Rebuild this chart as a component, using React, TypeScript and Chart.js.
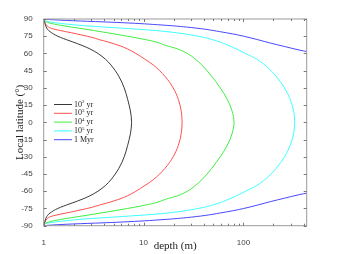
import React, { useEffect, useRef } from "react";
import { Chart, registerables } from "chart.js";

Chart.register(...registerables);

// ---- data ----
const seriesNames = ["10² yr", "10³ yr", "10⁴ yr", "10⁵ yr", "1 Myr"];
const legendBase = ["10", "10", "10", "10", "1 Myr"];
const legendSup = ["2", "3", "4", "5", ""];
const legendRest = [" yr", " yr", " yr", " yr", ""];

// 10^2 yr (black)
const latBlack = [90, 88, 86, 84, 82, 80, 78, 76, 74, 72, 70, 67, 64, 60, 55, 50, 40, 30, 20, 10, 0, -10, -20, -30, -40, -50, -55, -60, -64, -67, -70, -72, -74, -76, -78, -80, -82, -84, -86, -88, -90];
const depBlack = [1.0, 1.016, 1.03, 1.047, 1.074, 1.12, 1.2, 1.31, 1.47, 1.69, 1.96, 2.42, 2.9, 3.49, 4.15, 4.71, 5.66, 6.4, 6.93, 7.38, 7.59, 7.38, 6.93, 6.4, 5.66, 4.71, 4.15, 3.49, 2.9, 2.42, 1.96, 1.69, 1.47, 1.31, 1.2, 1.12, 1.074, 1.047, 1.03, 1.016, 1.0];

// 10^3 yr (red)
const latRed = [90, 88, 86, 84, 82, 80, 78, 76, 74, 72, 70, 67, 64, 60, 55, 50, 40, 30, 20, 10, 0, -10, -20, -30, -40, -50, -55, -60, -64, -67, -70, -72, -74, -76, -78, -80, -82, -84, -86, -88, -90];
const depRed = [1.0, 1.02, 1.04, 1.08, 1.18, 1.46, 1.9, 2.42, 3.04, 3.62, 4.4, 5.66, 6.89, 8.37, 10.3, 12.5, 16.4, 19.8, 22.3, 23.8, 24.3, 23.8, 22.3, 19.8, 16.4, 12.5, 10.3, 8.37, 6.89, 5.66, 4.4, 3.62, 3.04, 2.42, 1.9, 1.46, 1.18, 1.08, 1.04, 1.02, 1.0];

// 10^4 yr (green)
const latGreen = [90, 89, 88, 86, 84, 82, 80, 78, 76, 74, 72, 70, 67, 64, 60, 55, 50, 40, 30, 20, 10, 0, -10, -20, -30, -40, -50, -55, -60, -64, -67, -70, -72, -74, -76, -78, -80, -82, -84, -86, -88, -89, -90];
const depGreen = [1.0, 1.01, 1.04, 1.21, 1.6, 2.25, 3.15, 4.35, 5.93, 8.0, 10.5, 13.3, 16.6, 21.8, 27.4, 33.0, 38.3, 48.2, 58.6, 68.9, 76.9, 80.5, 76.9, 68.9, 58.6, 48.2, 38.3, 33.0, 27.4, 21.8, 16.6, 13.3, 10.5, 8.0, 5.93, 4.35, 3.15, 2.25, 1.6, 1.21, 1.04, 1.01, 1.0];

// 10^5 yr (cyan)
const latCyan = [90, 89, 88, 87, 86, 84, 82, 80, 78, 76, 74, 71, 68, 65, 60, 55, 47, 40, 30, 20, 10, 0, -10, -20, -30, -40, -47, -55, -60, -65, -68, -71, -74, -76, -78, -80, -82, -84, -86, -87, -88, -89, -90];
const depCyan = [1.0, 1.02, 1.07, 1.24, 1.52, 2.71, 6.07, 13.0, 21.5, 30.4, 40.1, 53.5, 66.5, 80, 105, 136, 179, 213, 258, 294, 318, 326, 318, 294, 258, 213, 179, 136, 105, 80, 66.5, 53.5, 40.1, 30.4, 21.5, 13.0, 6.07, 2.71, 1.52, 1.24, 1.07, 1.02, 1.0];

// 1 Myr (blue), northern and southern branches
const latBlueN = [90, 89.5, 89, 88.5, 88, 87.5, 87, 86, 85, 84, 83, 82, 81, 79, 77, 75, 72, 69, 66, 63, 61.3];
const depBlueN = [1.0, 1.16, 1.46, 1.96, 2.77, 3.92, 5.41, 9.18, 13.9, 20.1, 26.8, 34.1, 42.0, 57.9, 78.2, 100.7, 139, 187, 259, 361, 450];
const latBlueS = [-61.3, -63, -66, -69, -72, -75, -77, -79, -81, -82, -83, -84, -85, -86, -87, -87.5, -88, -88.5, -89, -89.5, -90];
const depBlueS = [450, 361, 259, 187, 139, 100.7, 78.2, 57.9, 42.0, 34.1, 26.8, 20.1, 13.9, 9.18, 5.41, 3.92, 2.77, 1.96, 1.46, 1.16, 1.0];

const xLabelTicks = [1, 10, 100];
const xAllTicks = [1, 2, 3, 4, 5, 6, 7, 8, 9, 10, 20, 30, 40, 50, 60, 70, 80, 90, 100, 200, 300, 400];
const yTicks = [-90, -75, -60, -45, -30, -15, 0, 15, 30, 45, 60, 75, 90];
const xMin = 1;
const xMax = 430;

const colors = ["#3a3a3a", "#ff5050", "#40ee40", "#40ffff", "#4848ff"];

const pts = (lat: number[], dep: number[]) => lat.map((l, i) => ({ x: dep[i], y: l }));

const framePlugin = {
  id: "frame",
  afterDraw(chart: any) {
    const { ctx, chartArea: a, scales } = chart;
    const xs = scales.x;
    const ys = scales.y;
    ctx.save();
    ctx.strokeStyle = "#999";
    ctx.lineWidth = 1;
    ctx.strokeRect(a.left, a.top, a.right - a.left, a.bottom - a.top);
    ctx.strokeStyle = "#777";
    ctx.beginPath();
    xAllTicks.forEach((v) => {
      const px = Math.round(xs.getPixelForValue(v)) + 0.5;
      const len = xLabelTicks.includes(v) ? 3 : 2;
      ctx.moveTo(px, a.bottom);
      ctx.lineTo(px, a.bottom - len);
      ctx.moveTo(px, a.top);
      ctx.lineTo(px, a.top + len);
    });
    yTicks.forEach((v) => {
      const py = Math.round(ys.getPixelForValue(v)) + 0.5;
      ctx.moveTo(a.left, py);
      ctx.lineTo(a.left + 3, py);
      ctx.moveTo(a.right, py);
      ctx.lineTo(a.right - 3, py);
    });
    ctx.stroke();

    // axis titles
    ctx.fillStyle = "#222";
    ctx.font = "11px 'Liberation Serif', serif";
    ctx.textAlign = "center";
    ctx.textBaseline = "middle";
    ctx.fillText("depth (m)", (a.left + a.right) / 2, 246);
    ctx.save();
    ctx.translate(20, (a.top + a.bottom) / 2);
    ctx.rotate(-Math.PI / 2);
    ctx.fillText("Local latitude (°)", 0, 0);
    ctx.restore();

    // legend
    const lx0 = 54;
    const lx1 = 72;
    const ty0 = 104.5;
    const dy = 8.8;
    seriesNames.forEach((_, i) => {
      const y = ty0 + i * dy;
      ctx.strokeStyle = colors[i];
      ctx.lineWidth = 1;
      ctx.beginPath();
      ctx.moveTo(lx0, y);
      ctx.lineTo(lx1, y);
      ctx.stroke();
      ctx.fillStyle = "#222";
      ctx.textAlign = "left";
      ctx.textBaseline = "middle";
      ctx.font = "8px 'Liberation Serif', serif";
      let x = 74;
      ctx.fillText(legendBase[i], x, y);
      x += ctx.measureText(legendBase[i]).width;
      if (legendSup[i]) {
        ctx.font = "5px 'Liberation Serif', serif";
        ctx.fillText(legendSup[i], x, y - 2.5);
        x += ctx.measureText(legendSup[i]).width;
        ctx.font = "8px 'Liberation Serif', serif";
        ctx.fillText(legendRest[i], x, y);
      }
    });
    ctx.restore();
  },
};

export default function App() {
  const ref = useRef<HTMLCanvasElement>(null);
  useEffect(() => {
    document.body.style.margin = "0";
    const mk = (label: string, data: any[], color: string) => ({
      label,
      data,
      borderColor: color,
      backgroundColor: color,
      borderWidth: 1,
      pointRadius: 0,
      cubicInterpolationMode: "monotone",
      fill: false,
    });
    const chart = new Chart(ref.current as HTMLCanvasElement, {
      type: "line",
      data: {
        datasets: [
          mk(seriesNames[0], pts(latBlack, depBlack), colors[0]),
          mk(seriesNames[1], pts(latRed, depRed), colors[1]),
          mk(seriesNames[2], pts(latGreen, depGreen), colors[2]),
          mk(seriesNames[3], pts(latCyan, depCyan), colors[3]),
          mk(seriesNames[4], pts(latBlueN, depBlueN), colors[4]),
          mk(seriesNames[4], pts(latBlueS, depBlueS), colors[4]),
        ],
      },
      options: {
        indexAxis: "y",
        responsive: false,
        animation: false,
        layout: { padding: { left: 0, top: 19, right: 32.3, bottom: 0 } },
        plugins: { legend: { display: false }, tooltip: { enabled: false } },
        scales: {
          x: {
            type: "logarithmic",
            position: "bottom",
            min: xMin,
            max: xMax,
            grid: { display: false },
            border: { display: false },
            afterBuildTicks: (s: any) => {
              s.ticks = xAllTicks.map((v) => ({ value: v }));
            },
            afterFit: (s: any) => {
              s.height = 28.3;
            },
            ticks: {
              autoSkip: false,
              maxRotation: 0,
              padding: 4,
              color: "#444",
              font: { size: 8, family: "'Liberation Sans', Arial, sans-serif" },
              callback: (v: any) => (xLabelTicks.includes(Number(v)) ? String(v) : ""),
            },
          },
          y: {
            type: "linear",
            position: "left",
            min: -90,
            max: 90,
            grid: { display: false },
            border: { display: false },
            afterBuildTicks: (s: any) => {
              s.ticks = yTicks.map((v) => ({ value: v }));
            },
            afterFit: (s: any) => {
              s.width = 43.7;
            },
            ticks: {
              padding: 3,
              color: "#444",
              font: { size: 8, family: "'Liberation Sans', Arial, sans-serif" },
            },
          },
        },
      },
      plugins: [framePlugin],
    } as any);
    return () => chart.destroy();
  }, []);
  return (
    <div style={{ width: 339, height: 254, background: "#fff" }}>
      <canvas ref={ref} width={339} height={254} />
    </div>
  );
}
